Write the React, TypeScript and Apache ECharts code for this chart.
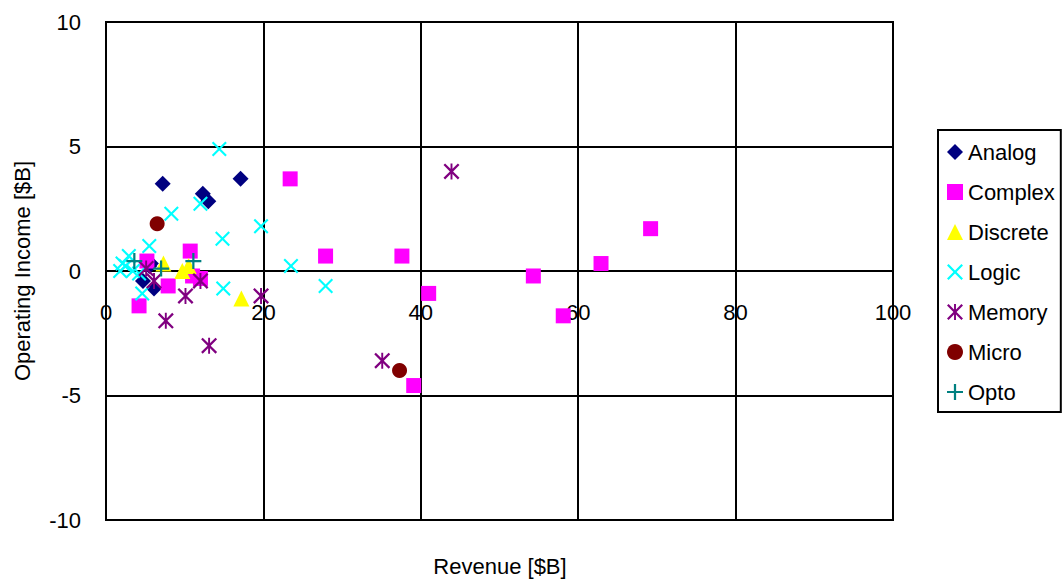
import React, { useEffect, useRef } from "react";
import * as echarts from "echarts";

const seriesNames = ["Analog", "Complex", "Discrete", "Logic", "Memory", "Micro", "Opto"];

const analog = [[7.2, 3.5], [17.1, 3.7], [12.3, 3.1], [13.0, 2.8], [5.5, 0.2], [4.7, -0.4], [6.1, -0.7], [5.7, 0.3]];
const complex = [[23.4, 3.7], [27.9, 0.6], [37.6, 0.6], [41.0, -0.9], [39.1, -4.6], [54.3, -0.2], [62.9, 0.3], [69.2, 1.7], [58.1, -1.8], [10.7, 0.8], [7.9, -0.6], [4.2, -1.4], [11.0, -0.2], [12.0, -0.3], [5.2, 0.4]];
const discrete = [[7.3, 0.3], [9.7, 0.0], [10.5, 0.2], [17.2, -1.1]];
const logic = [[14.4, 4.9], [8.3, 2.3], [12.0, 2.7], [19.7, 1.8], [14.8, 1.3], [5.5, 1.0], [2.9, 0.6], [2.5, 0.2], [2.1, 0.3], [4.2, -0.1], [3.4, 0.0], [4.6, -0.9], [14.9, -0.7], [23.5, 0.2], [27.9, -0.6], [1.8, 0.0]];
const memory = [[43.9, 4.0], [35.1, -3.6], [7.6, -2.0], [13.1, -3.0], [10.1, -1.0], [12.0, -0.4], [19.7, -1.0], [5.1, 0.1], [6.1, -0.4]];
const micro = [[6.5, 1.9], [37.3, -4.0]];
const opto = [[3.6, 0.4], [7.0, 0.1], [11.1, 0.4]];

const xTicks = { min: 0, max: 100, interval: 20 };
const yTicks = { min: -10, max: 10, interval: 5 };

const X_PATH = "path://M2,0 L10,8 L18,0 L20,2 L12,10 L20,18 L18,20 L10,12 L2,20 L0,18 L8,10 L0,2 Z";
const STAR_PATH = "path://M2,0 L10,8 L18,0 L20,2 L12,10 L20,18 L18,20 L10,12 L2,20 L0,18 L8,10 L0,2 Z M8.8,0 L11.2,0 L11.2,20 L8.8,20 Z";
const PLUS_PATH = "path://M8.6,0 L11.4,0 L11.4,8.6 L20,8.6 L20,11.4 L11.4,11.4 L11.4,20 L8.6,20 L8.6,11.4 L0,11.4 L0,8.6 L8.6,8.6 Z";

const FONT = "'Liberation Sans', Arial, sans-serif";

export default function App() {
  const ref = useRef<HTMLDivElement>(null);
  useEffect(() => {
    if (!ref.current) return;
    const chart = echarts.init(ref.current, null, { renderer: "svg" });
    const datasets = [analog, complex, discrete, logic, memory, micro, opto];
    const colors = ["#000080", "#FF00FF", "#FFFF00", "#00FFFF", "#800080", "#800000", "#008080"];
    const symbols = ["diamond", "rect", "triangle", X_PATH, STAR_PATH, "circle", PLUS_PATH];
    const sizes = [16, 15, 16, 15, 16, 15, 16];
    chart.setOption({
      animation: false,
      backgroundColor: "#ffffff",
      textStyle: { fontFamily: FONT },
      grid: {
        left: 106,
        right: 171,
        top: 22,
        bottom: 60,
        show: true,
        borderColor: "#000",
        borderWidth: 2,
        backgroundColor: "transparent",
      },
      legend: {
        orient: "vertical",
        left: 938,
        top: 130,
        padding: [11, 6, 9, 9],
        itemGap: 18,
        itemWidth: 16,
        itemHeight: 16,
        itemTextGap: 5,
        borderColor: "#000",
        borderWidth: 2,
        data: seriesNames,
        textStyle: { fontSize: 22, lineHeight: 22, color: "#000", fontFamily: FONT },
      },
      xAxis: {
        type: "value",
        min: xTicks.min,
        max: xTicks.max,
        interval: xTicks.interval,
        axisLine: { onZero: false, lineStyle: { color: "#000", width: 2 } },
        axisTick: { show: false },
        axisLabel: { fontSize: 22, color: "#000", margin: -219, fontFamily: FONT },
        splitLine: { show: true, lineStyle: { color: "#000", width: 2 } },
      },
      yAxis: {
        type: "value",
        min: yTicks.min,
        max: yTicks.max,
        interval: yTicks.interval,
        name: "Operating Income [$B]",
        nameLocation: "middle",
        nameGap: 73,
        nameTextStyle: { fontSize: 22, color: "#000", fontFamily: FONT },
        axisLine: { show: true, onZero: false, lineStyle: { color: "#000", width: 2 } },
        axisTick: { show: false },
        axisLabel: { fontSize: 22, color: "#000", margin: 25, fontFamily: FONT },
        splitLine: { show: true, lineStyle: { color: "#000", width: 2 } },
      },
      graphic: [
        {
          type: "text",
          x: 500,
          y: 566,
          style: {
            text: "Revenue [$B]",
            fontSize: 22,
            fontFamily: FONT,
            fill: "#000",
            align: "center",
            verticalAlign: "middle",
          },
        },
      ],
      series: seriesNames.map((name, i) => ({
        name,
        type: "scatter",
        data: datasets[i],
        symbol: symbols[i],
        symbolSize: sizes[i],
        itemStyle: { color: colors[i], opacity: 1 },
        emphasis: { disabled: true },
      })),
    });
    return () => chart.dispose();
  }, []);
  return <div ref={ref} style={{ position: "fixed", left: 0, top: 0, width: 1064, height: 580 }} />;
}
